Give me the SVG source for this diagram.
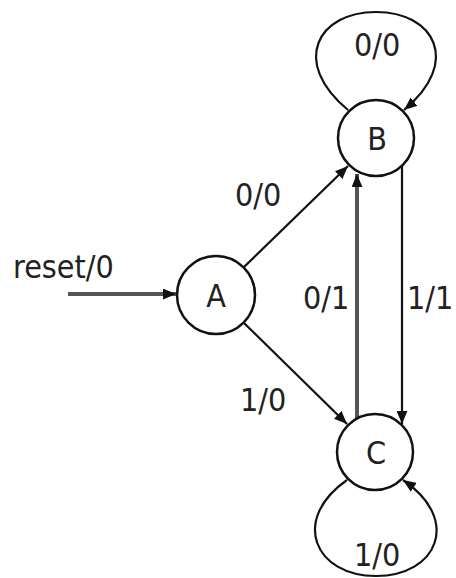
<svg xmlns="http://www.w3.org/2000/svg" width="456" height="578" viewBox="0 0 456 578">
<style>
.node circle{fill:#fff;stroke:#111;stroke-width:2.5}
text{font-family:"DejaVu Sans Condensed","DejaVu Sans",Verdana,sans-serif;font-stretch:condensed;font-size:32px;fill:#222}
.nl{text-anchor:middle}
.e{fill:none;stroke:#111;stroke-width:2.2}
.g{fill:none;stroke:#555;stroke-width:4}
</style>
<defs>
<marker id="ah" viewBox="0 0 12 10" refX="12" refY="5" markerWidth="13" markerHeight="11" markerUnits="userSpaceOnUse" orient="auto">
<path d="M0,0 L12,5 L0,10 Z" fill="#111"/>
</marker>
</defs>
<g id="connectors">
<line class="g" x1="68" y1="294" x2="176" y2="294" marker-end="url(#ah)"/>
<line class="e" x1="244" y1="267" x2="348" y2="166" marker-end="url(#ah)"/>
<line class="e" x1="244" y1="323" x2="347" y2="424" marker-end="url(#ah)"/>
<line class="g" x1="357" y1="418" x2="357" y2="174" marker-end="url(#ah)"/>
<line class="e" x1="402" y1="166" x2="402" y2="424" marker-end="url(#ah)"/>
<path class="e" d="M348,110 C290,62 318,12 376,12 C434,12 462,62 404,110" marker-end="url(#ah)"/>
<path class="e" d="M347,480 C290,520 315,576 376,576 C437,576 462,520 403,480" marker-end="url(#ah)"/>
<text x="13" y="278">reset/0</text>
<text x="235" y="206">0/0</text>
<text x="240" y="411">1/0</text>
<text x="303" y="309">0/1</text>
<text x="407" y="309">1/1</text>
<text x="354" y="56">0/0</text>
<text x="354" y="566">1/0</text>
</g>
<g id="A" class="node"><circle cx="216" cy="295" r="39"/><text class="nl" x="216" y="307">A</text></g>
<g id="B" class="node"><circle cx="376" cy="138" r="38"/><text class="nl" x="377" y="150">B</text></g>
<g id="C" class="node"><circle cx="375" cy="452" r="38"/><text class="nl" x="376" y="464">C</text></g>
</svg>
